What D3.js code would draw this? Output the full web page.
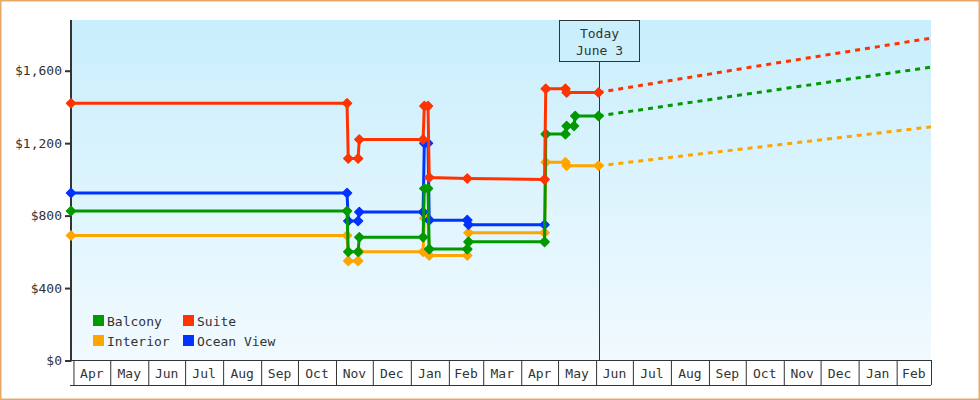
<!DOCTYPE html>
<html>
<head>
<meta charset="utf-8" />
<title>cabin prices</title>
<script src="https://d3js.org/d3.v7.min.js"></script>
<style>
body { margin: 0; background: #fff; }
svg text { font-family: "DejaVu Sans Mono", monospace; font-size: 13px; fill: #333; }
.axis--y path, .axis--y line { stroke: #333; stroke-width: 2px; }
.axis--x path, .axis--x line { stroke: #333; stroke-width: 1px; }
.price { fill: none; stroke-width: 3px; }
.proj { fill: none; stroke-width: 3px; stroke-dasharray: 5,5; }
</style>
</head>
<body>
<div id="viz"></div>
<script>

// observation dates (each change = old price one day, new price the next)
var dates = ["2013-03-30","2013-11-10","2013-11-11","2013-11-19","2013-11-20",
             "2014-01-11","2014-01-12","2014-01-15","2014-01-16","2014-02-16",
             "2014-02-17","2014-04-20","2014-04-21","2014-05-07","2014-05-08",
             "2014-05-14","2014-05-15","2014-06-03"];

var balcony   = [825, 825, 600, 600, 680, 680, 950, 950, 615, 615, 655, 655, 1250, 1250, 1295, 1295, 1350, 1350];
var suite     = [1420, 1420, 1115, 1115, 1220, 1220, 1405, 1405, 1010, 1005, null, 1000, 1500, 1500, 1480, null, null, 1480];
var interior  = [690, 690, 550, 550, 600, 600, 785, 785, 580, 580, 705, 705, 1095, 1095, 1075, null, null, 1075];
var oceanView = [925, 925, 770, 770, 820, 820, 1200, 1200, 775, 775, 750, 750, null, null, null, null, null, null];

// projected prices after today
var projDates    = ["2014-06-03", "2014-10-01", "2015-03-01"];
var suiteProj    = [1480, 1615, 1780];
var balconyProj  = [1350, 1470, 1620];
var interiorProj = [1075, 1170, 1290];

var yTicks = [0, 400, 800, 1200, 1600];
var monthLabels = ["Apr","May","Jun","Jul","Aug","Sep","Oct","Nov","Dec","Jan","Feb","Mar",
                   "Apr","May","Jun","Jul","Aug","Sep","Oct","Nov","Dec","Jan","Feb"];
var today = "2014-06-03", todayLabel = ["Today", "June 3"];

var seriesNames  = ["Balcony", "Suite", "Interior", "Ocean View"];
var seriesColors = ["#009900", "#ff3300", "#ffa500", "#0033ff"];

var parse = d3.timeParse("%Y-%m-%d");

var width = 980, height = 400;
var plotLeft = 71, plotRight = 931, plotTop = 20, plotBottom = 360.5;

var svg = d3.select("#viz").append("svg")
    .attr("width", width)
    .attr("height", height);

var x = d3.scaleTime()
    .domain([parse("2013-03-30"), parse("2015-03-01")])
    .range([plotLeft, plotRight]);
var y = d3.scaleLinear()
    .domain([0, 1880])
    .range([plotBottom, plotTop]);

// plot background
var grad = svg.append("defs").append("linearGradient")
    .attr("id", "bg").attr("x1", 0).attr("y1", 0).attr("x2", 0).attr("y2", 1);
grad.append("stop").attr("offset", "0%").attr("stop-color", "#c9eefc");
grad.append("stop").attr("offset", "100%").attr("stop-color", "#f1faff");

svg.append("rect")
    .attr("x", plotLeft).attr("y", plotTop)
    .attr("width", plotRight - plotLeft).attr("height", plotBottom - plotTop)
    .attr("fill", "url(#bg)");

// month boxes under the plot
var months = d3.timeMonth.range(parse("2013-04-01"), parse("2015-03-01"));
var xAxis = svg.append("g")
    .attr("class", "axis axis--x")
    .attr("transform", "translate(0," + Math.floor(plotBottom) + ")")
    .call(d3.axisBottom(x).tickValues(months.concat([parse("2015-03-01")]))
      .tickSize(25).tickSizeOuter(0).tickFormat(""));
xAxis.select(".domain").attr("d", "M" + plotLeft + ",0.5H" + plotRight);
xAxis.append("line")
    .attr("x1", plotLeft - 1).attr("x2", plotRight)
    .attr("y1", 25.5).attr("y2", 25.5);

svg.append("g").selectAll("text")
    .data(months)
    .enter().append("text")
      .attr("x", function(d) { return (x(d) + x(d3.timeMonth.offset(d, 1))) / 2; })
      .attr("y", 378)
      .attr("text-anchor", "middle")
      .text(function(d, i) { return monthLabels[i]; });

// y axis
var yAxis = svg.append("g")
    .attr("class", "axis axis--y")
    .attr("transform", "translate(" + plotLeft + ",0)")
    .call(d3.axisLeft(y).tickValues(yTicks).tickSize(6).tickSizeOuter(0)
      .tickFormat(d3.format("$,")));
yAxis.select(".domain").attr("d", "M0," + plotTop + "V" + (plotBottom + 1));
yAxis.selectAll("text").attr("x", -9).attr("fill", "#333")
    .style("font-family", "DejaVu Sans Mono").style("font-size", "13px");

// today marker
var tx = Math.round(x(parse(today))) + 0.5;
svg.append("line")
    .attr("x1", tx).attr("x2", tx)
    .attr("y1", 61).attr("y2", plotBottom)
    .attr("stroke", "#333").attr("stroke-width", 1);
svg.append("rect")
    .attr("x", tx - 40).attr("y", plotTop + 0.5)
    .attr("width", 80).attr("height", 41)
    .attr("fill", "none").attr("stroke", "#333");
svg.selectAll(".today")
    .data(todayLabel)
    .enter().append("text")
      .attr("class", "today")
      .attr("x", tx)
      .attr("y", function(d, i) { return 38 + i * 17; })
      .attr("text-anchor", "middle")
      .text(function(d) { return d; });

function points(vals) {
  return dates.map(function(d, i) { return { date: parse(d), value: vals[i] }; })
    .filter(function(p) { return p.value != null; });
}

var line = d3.line()
    .x(function(d) { return x(d.date); })
    .y(function(d) { return y(d.value); });

var diamond = "M0,-4.5L4.5,0L0,4.5L-4.5,0Z";

// draw order: Interior, Ocean View, Balcony, Suite
var drawOrder = [
  { name: "Interior",   vals: interior,  proj: interiorProj },
  { name: "Ocean View", vals: oceanView, proj: null },
  { name: "Balcony",    vals: balcony,   proj: balconyProj },
  { name: "Suite",      vals: suite,     proj: suiteProj }
];

drawOrder.forEach(function(s) {
  var color = seriesColors[seriesNames.indexOf(s.name)];
  var g = svg.append("g");
  if (s.proj) {
    var pp = projDates.map(function(d, i) { return { date: parse(d), value: s.proj[i] }; });
    g.append("path")
      .datum(pp)
      .attr("class", "proj")
      .attr("stroke", color)
      .attr("d", line);
  }
  var pts = points(s.vals);
  g.append("path")
    .datum(pts)
    .attr("class", "price")
    .attr("stroke", color)
    .attr("d", line);
  g.selectAll(".pt")
    .data(pts)
    .enter().append("path")
      .attr("class", "pt")
      .attr("d", diamond)
      .attr("fill", color)
      .attr("stroke", color)
      .attr("stroke-width", 1.5)
      .attr("stroke-linejoin", "round")
      .attr("transform", function(d) { return "translate(" + x(d.date) + "," + y(d.value) + ")"; });
});

// legend, two columns
var legend = svg.append("g").selectAll("g")
    .data(seriesNames)
    .enter().append("g")
      .attr("transform", function(d, i) {
        return "translate(" + (93 + (i % 2) * 90) + "," + (315 + Math.floor(i / 2) * 20) + ")";
      });
legend.append("rect")
    .attr("width", 11).attr("height", 11)
    .attr("fill", function(d, i) { return seriesColors[i]; });
legend.append("text")
    .attr("x", 14).attr("y", 10.5)
    .text(function(d) { return d; });

// outer frame
svg.append("rect")
    .attr("x", 0.75).attr("y", 0.75)
    .attr("width", width - 1.5).attr("height", height - 1.5)
    .attr("fill", "none")
    .attr("stroke", "#e8a865")
    .attr("stroke-width", 1.5);

</script>
</body>
</html>
